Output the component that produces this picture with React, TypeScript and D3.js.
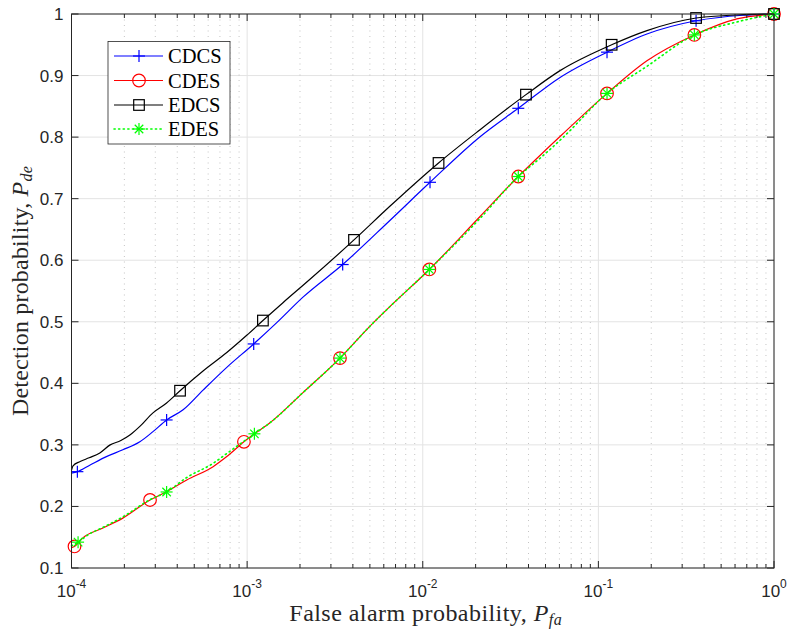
import React from 'react';
import * as d3 from 'd3';

const W = 789;
const H = 630;
const plot = { left: 71.5, right: 774, top: 14, bottom: 568 };

// ---- data ----
const cdcsPfa = [1.00e-4, 1.08e-4, 1.27e-4, 1.58e-4, 1.96e-4, 2.45e-4, 2.91e-4, 3.48e-4, 4.32e-4, 5.61e-4, 7.66e-4, 1.09e-3, 1.48e-3, 2.08e-3, 3.50e-3, 6.52e-3, 1.10e-2, 2.12e-2, 3.50e-2, 6.05e-2, 0.112, 0.189, 0.360, 0.667, 1];
const cdcsPd = [0.254, 0.2565, 0.267, 0.281, 0.292, 0.305, 0.3215, 0.3405, 0.357, 0.389, 0.426, 0.464, 0.499, 0.540, 0.593, 0.665, 0.7266, 0.8007, 0.8468, 0.897, 0.938, 0.9675, 0.989, 0.998, 1];
const cdcsMarkerIdx = [1, 7, 11, 14, 16, 18, 20, 22, 24];

const cdesPfa = [1.00e-4, 1.04e-4, 1.16e-4, 1.51e-4, 1.96e-4, 2.80e-4, 3.48e-4, 4.53e-4, 6.40e-4, 7.66e-4, 9.59e-4, 1.10e-3, 1.35e-3, 2.08e-3, 3.38e-3, 5.01e-3, 6.52e-3, 1.09e-2, 2.12e-2, 3.50e-2, 4.76e-2, 6.32e-2, 0.112, 0.189, 0.352, 0.614, 1];
const cdesPd = [0.133, 0.135, 0.149, 0.165, 0.181, 0.2105, 0.224, 0.243, 0.2646, 0.281, 0.305, 0.318, 0.336, 0.385, 0.441, 0.493, 0.525, 0.585, 0.671, 0.736, 0.773, 0.806, 0.871, 0.924, 0.966, 0.992, 1];
const cdesMarkerIdx = [1, 5, 10, 14, 17, 19, 22, 24, 26];

const edcsPfa = [1.00e-4, 1.02e-4, 1.12e-4, 1.26e-4, 1.45e-4, 1.66e-4, 1.91e-4, 2.15e-4, 2.45e-4, 2.91e-4, 3.48e-4, 4.15e-4, 5.61e-4, 7.66e-4, 9.95e-4, 1.23e-3, 1.60e-3, 2.28e-3, 4.06e-3, 6.52e-3, 1.23e-2, 2.12e-2, 3.87e-2, 6.05e-2, 0.119, 0.189, 0.360, 0.667, 1];
const edcsPd = [0.259, 0.266, 0.273, 0.279, 0.287, 0.300, 0.307, 0.316, 0.330, 0.352, 0.368, 0.388, 0.420, 0.450, 0.478, 0.502, 0.531, 0.569, 0.633, 0.688, 0.758, 0.812, 0.869, 0.908, 0.950, 0.973, 0.9935, 0.999, 1];
const edcsMarkerIdx = [11, 15, 18, 20, 22, 24, 26, 28];

const edesPfa = [1.00e-4, 1.09e-4, 1.26e-4, 1.51e-4, 1.96e-4, 2.80e-4, 3.48e-4, 4.53e-4, 6.40e-4, 7.66e-4, 9.59e-4, 1.10e-3, 1.35e-3, 2.08e-3, 3.38e-3, 5.01e-3, 6.52e-3, 1.09e-2, 2.12e-2, 3.50e-2, 4.76e-2, 6.32e-2, 0.112, 0.189, 0.352, 0.614, 1];
const edesPd = [0.136, 0.142, 0.155, 0.166, 0.183, 0.211, 0.2235, 0.247, 0.270, 0.286, 0.306, 0.318, 0.336, 0.385, 0.441, 0.493, 0.525, 0.585, 0.668, 0.736, 0.768, 0.800, 0.871, 0.915, 0.966, 0.987, 1];
const edesMarkerIdx = [1, 6, 11, 14, 17, 19, 22, 24, 26];

const xTickValues = [1e-4, 1e-3, 1e-2, 1e-1, 1];
const xTickExponents = ['-4', '-3', '-2', '-1', '0'];
const yTickValues = [0.1, 0.2, 0.3, 0.4, 0.5, 0.6, 0.7, 0.8, 0.9, 1];
const yTickLabels = ['0.1', '0.2', '0.3', '0.4', '0.5', '0.6', '0.7', '0.8', '0.9', '1'];

const seriesNames = ['CDCS', 'CDES', 'EDCS', 'EDES'];
const seriesColors = ['#0000ff', '#ff0000', '#000000', '#00ff00'];
const seriesMarkers = ['plus', 'circle', 'square', 'star'];
const seriesDash = [null, null, null, '1.2 3.4'];

const series = [
  { x: cdcsPfa, y: cdcsPd, m: cdcsMarkerIdx },
  { x: cdesPfa, y: cdesPd, m: cdesMarkerIdx },
  { x: edcsPfa, y: edcsPd, m: edcsMarkerIdx },
  { x: edesPfa, y: edesPd, m: edesMarkerIdx },
];

function Marker({ type, x, y, color }: { type: string; x: number; y: number; color: string }) {
  const s = 6;
  if (type === 'plus') {
    return (
      <g stroke={color} strokeWidth={1.2} fill="none">
        <line x1={x - s} y1={y} x2={x + s} y2={y} />
        <line x1={x} y1={y - s} x2={x} y2={y + s} />
      </g>
    );
  }
  if (type === 'circle') {
    return <circle cx={x} cy={y} r={6.3} stroke={color} strokeWidth={1.2} fill="none" />;
  }
  if (type === 'square') {
    return <rect x={x - 5.3} y={y - 5.3} width={10.6} height={10.6} stroke={color} strokeWidth={1.2} fill="none" />;
  }
  const d = s * 0.707;
  return (
    <g stroke={color} strokeWidth={1.2} fill="none">
      <line x1={x - s} y1={y} x2={x + s} y2={y} />
      <line x1={x} y1={y - s} x2={x} y2={y + s} />
      <line x1={x - d} y1={y - d} x2={x + d} y2={y + d} />
      <line x1={x - d} y1={y + d} x2={x + d} y2={y - d} />
    </g>
  );
}

export default function App() {
  const xScale = d3.scaleLog().domain([1e-4, 1]).range([plot.left, plot.right]);
  const yScale = d3.scaleLinear().domain([0.1, 1]).range([plot.bottom, plot.top]);
  const minorTicks = xScale.ticks().filter((t) => !xTickValues.some((v) => Math.abs(v - t) / v < 1e-6));

  const line = d3
    .line<[number, number]>()
    .x((d) => xScale(d[0]))
    .y((d) => yScale(d[1]))
    .curve(d3.curveMonotoneX);

  const axisColor = '#262626';
  const gridColor = '#e3e3e3';
  const minorGridColor = '#c4c4c4';
  const tickFont = "'Liberation Sans', Arial, sans-serif";
  const serifFont = "'Liberation Serif', 'Times New Roman', serif";

  const legendY = [56, 80.5, 105, 129];
  const cx = (plot.left + plot.right) / 2;
  const cy = (plot.top + plot.bottom) / 2;

  return (
    <svg width={W} height={H} style={{ position: 'absolute', left: 0, top: 0, background: '#fff' }}>
      <rect x={0} y={0} width={W} height={H} fill="#fff" />
      {/* grid */}
      {yTickValues.map((v) => (
        <line key={'gy' + v} x1={plot.left} x2={plot.right} y1={yScale(v)} y2={yScale(v)} stroke={gridColor} strokeWidth={1} />
      ))}
      {minorTicks.map((v) => (
        <line key={'gmx' + v} x1={xScale(v)} x2={xScale(v)} y1={plot.top} y2={plot.bottom} stroke={minorGridColor} strokeWidth={1} strokeDasharray="1 4.5" />
      ))}
      {xTickValues.map((v) => (
        <line key={'gx' + v} x1={xScale(v)} x2={xScale(v)} y1={plot.top} y2={plot.bottom} stroke={gridColor} strokeWidth={1} />
      ))}

      {/* series */}
      {series.map((s, i) => {
        const pts: [number, number][] = s.x.map((xv, j) => [xv, s.y[j]]);
        return (
          <g key={'s' + i}>
            <path
              d={line(pts) || ''}
              fill="none"
              stroke={seriesColors[i]}
              strokeWidth={i === 3 ? 1.6 : 1.2}
              strokeDasharray={seriesDash[i] || undefined}
              strokeLinecap={i === 3 ? 'round' : 'butt'}
            />
            {s.m.map((j) => (
              <Marker key={j} type={seriesMarkers[i]} x={xScale(s.x[j])} y={yScale(s.y[j])} color={seriesColors[i]} />
            ))}
          </g>
        );
      })}

      {/* axes box */}
      <rect x={plot.left} y={plot.top} width={plot.right - plot.left} height={plot.bottom - plot.top} fill="none" stroke={axisColor} strokeWidth={1} />
      {/* ticks */}
      {yTickValues.map((v) => (
        <g key={'ty' + v} stroke={axisColor} strokeWidth={1}>
          <line x1={plot.left} x2={plot.left + 7} y1={yScale(v)} y2={yScale(v)} />
          <line x1={plot.right} x2={plot.right - 7} y1={yScale(v)} y2={yScale(v)} />
        </g>
      ))}
      {xTickValues.map((v) => (
        <g key={'tx' + v} stroke={axisColor} strokeWidth={1}>
          <line x1={xScale(v)} x2={xScale(v)} y1={plot.bottom} y2={plot.bottom - 7} />
          <line x1={xScale(v)} x2={xScale(v)} y1={plot.top} y2={plot.top + 7} />
        </g>
      ))}
      {minorTicks.map((v) => (
        <g key={'tmx' + v} stroke={axisColor} strokeWidth={1}>
          <line x1={xScale(v)} x2={xScale(v)} y1={plot.bottom} y2={plot.bottom - 4} />
          <line x1={xScale(v)} x2={xScale(v)} y1={plot.top} y2={plot.top + 4} />
        </g>
      ))}

      {/* tick labels */}
      {yTickValues.map((v, i) => (
        <text key={'ly' + v} x={plot.left - 8} y={yScale(v)} dy="0.35em" textAnchor="end" fontFamily={tickFont} fontSize={17} fill={axisColor}>
          {yTickLabels[i]}
        </text>
      ))}
      {xTickValues.map((v, i) => (
        <text key={'lx' + v} x={xScale(v)} y={597} textAnchor="middle" fontFamily={tickFont} fontSize={17} fill={axisColor}>
          <tspan>10</tspan>
          <tspan dy={-9} fontSize={12}>{xTickExponents[i]}</tspan>
        </text>
      ))}

      {/* axis labels */}
      <text x={cx + 3} y={621} textAnchor="middle" fontFamily={serifFont} fontSize={24} letterSpacing={0.45} fill={axisColor}>
        False alarm probability, <tspan fontStyle="italic">P</tspan>
        <tspan fontStyle="italic" fontSize={16} dy={4}>fa</tspan>
      </text>
      <text transform={`translate(28,${cy}) rotate(-90)`} x={0} y={0} textAnchor="middle" fontFamily={serifFont} fontSize={24} letterSpacing={0.2} fill={axisColor}>
        Detection probability, <tspan fontStyle="italic">P</tspan>
        <tspan fontStyle="italic" fontSize={16} dy={4}>de</tspan>
      </text>

      {/* legend */}
      <rect x={108} y={41.5} width={122} height={102.5} fill="#fff" stroke={axisColor} strokeWidth={0.8} />
      {seriesNames.map((n, i) => (
        <g key={'lg' + n}>
          <line
            x1={114}
            x2={163}
            y1={legendY[i]}
            y2={legendY[i]}
            stroke={seriesColors[i]}
            strokeWidth={i === 3 ? 1.6 : 1.2}
            strokeDasharray={seriesDash[i] || undefined}
            strokeLinecap={i === 3 ? 'round' : 'butt'}
          />
          <Marker type={seriesMarkers[i]} x={139} y={legendY[i]} color={seriesColors[i]} />
          <text x={168} y={legendY[i]} dy="0.35em" fontFamily={serifFont} fontSize={20.5} fill="#000">
            {n}
          </text>
        </g>
      ))}
    </svg>
  );
}
